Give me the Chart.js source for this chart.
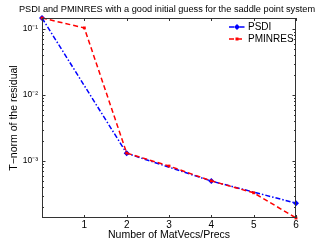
<!DOCTYPE html>
<html><head><meta charset="utf-8">
<script src="https://cdn.jsdelivr.net/npm/chart.js@4/dist/chart.umd.min.js"></script>
<style>html,body{margin:0;padding:0;background:#fff}#wrap{width:327px;height:246px}</style>
</head><body><div id="wrap"><canvas id="c" width="327" height="246"></canvas></div>
<script>
const titleText = 'PSDI and PMINRES with a good initial guess for the saddle point system';
const xLabel = 'Number of MatVecs/Precs';
const yLabel = 'T\u2212norm of the residual';
const psdiX = [0, 2, 4, 6];
const psdiY = [0.147, 1.31e-3, 4.97e-4, 2.3e-4];
const pminresX = [0, 1, 2, 3, 4, 5, 6];
const pminresY = [0.147, 0.104, 1.32e-3, 8.4e-4, 5.0e-4, 3.3e-4, 1.37e-4];
const yMajorTicks = [1e-3, 1e-2, 1e-1];
const yTickLabels = ['10\u207B\u00B3', '10\u207B\u00B2', '10\u207B\u00B9'];
const xTicks = [1, 2, 3, 4, 5, 6];

const FONT = 'Liberation Sans, Arial, Helvetica, sans-serif';
const AX = '#333';

const frame = {
  id: 'frame',
  afterDatasetsDraw(chart) {
    const {ctx, chartArea: a, scales: {x, y}} = chart;
    ctx.save();
    ctx.strokeStyle = AX; ctx.lineWidth = 1;
    ctx.strokeRect(a.left + 0.5, a.top + 0.5, a.right - a.left - 1, a.bottom - a.top - 1);
    ctx.beginPath();
    for (const v of xTicks) {
      const px = Math.round(x.getPixelForValue(v)) + 0.5;
      ctx.moveTo(px, a.bottom); ctx.lineTo(px, a.bottom - 3);
      ctx.moveTo(px, a.top); ctx.lineTo(px, a.top + 3);
    }
    for (let e = -4; e <= 0; e++) {
      for (let m = 1; m <= 9; m++) {
        const v = m * Math.pow(10, e);
        if (v < y.min || v > y.max) continue;
        const py = Math.round(y.getPixelForValue(v)) + 0.5;
        const len = m === 1 ? 3.5 : 2;
        ctx.moveTo(a.left, py); ctx.lineTo(a.left + len, py);
        ctx.moveTo(a.right, py); ctx.lineTo(a.right - len, py);
      }
    }
    ctx.stroke();
    // legend
    const items = chart.data.datasets;
    const lx0 = 229, lx1 = 245;
    items.forEach((ds, i) => {
      const ly = 27 + i * 12;
      ctx.strokeStyle = ds.borderColor; ctx.lineWidth = 1.5;
      ctx.setLineDash(ds.borderDash);
      ctx.beginPath(); ctx.moveTo(lx0, ly); ctx.lineTo(lx1, ly); ctx.stroke();
      ctx.setLineDash([]);
      ctx.fillStyle = ds.pointBackgroundColor;
      const cx = (lx0 + lx1) / 2;
      ctx.beginPath();
      if (ds.pointStyle === 'rectRot') {
        ctx.moveTo(cx, ly - 3); ctx.lineTo(cx + 3, ly); ctx.lineTo(cx, ly + 3); ctx.lineTo(cx - 3, ly); ctx.closePath();
      } else {
        ctx.rect(cx - 1.5, ly - 1.5, 3, 3);
      }
      ctx.fill();
      ctx.fillStyle = '#000';
      ctx.font = '10px ' + FONT;
      ctx.textBaseline = 'middle';
      ctx.fillText(ds.label, 248, ly + 0.5);
    });
    ctx.restore();
  }
};

new Chart(document.getElementById('c'), {
  type: 'line',
  data: {
    datasets: [
      {
        label: 'PSDI',
        data: psdiX.map((v, i) => ({x: v, y: psdiY[i]})),
        borderColor: '#0000ff', backgroundColor: '#0000ff', pointBackgroundColor: '#0000ff',
        borderWidth: 1.5, borderDash: [5, 2, 1.5, 2],
        pointStyle: 'rectRot', pointRadius: 3, pointBorderWidth: 0,
        tension: 0, clip: false, order: 2
      },
      {
        label: 'PMINRES',
        data: pminresX.map((v, i) => ({x: v, y: pminresY[i]})),
        borderColor: '#ff0000', backgroundColor: '#ff0000', pointBackgroundColor: '#ff0000',
        borderWidth: 1.5, borderDash: [5, 3],
        pointStyle: 'rect', pointRadius: 2, pointBorderWidth: 0,
        tension: 0, clip: false, order: 1
      }
    ]
  },
  options: {
    responsive: false, animation: false, devicePixelRatio: 1,
    layout: {padding: {left: 7, right: 0, top: 0, bottom: 5}},
    plugins: {
      legend: {display: false}, tooltip: {enabled: false},
      title: {display: true, text: titleText, color: '#000',
        font: {family: FONT, size: 9.2, weight: 'normal', lineHeight: 1.2}, padding: {top: 4, bottom: 2.96}}
    },
    scales: {
      x: {
        type: 'linear', min: 0, max: 6,
        afterBuildTicks(s) { s.ticks = xTicks.map(v => ({value: v})); },
        afterFit(s) { s.height = 23; },
        grid: {display: false, drawTicks: false}, border: {display: false},
        ticks: {color: '#000', font: {family: FONT, size: 10}, padding: 1, maxRotation: 0},
        title: {display: true, text: xLabel, color: '#000', font: {family: FONT, size: 10.5}, padding: {top: 0, bottom: 0}}
      },
      y: {
        type: 'logarithmic', min: 1.37e-4, max: 0.147,
        afterBuildTicks(s) { s.ticks = yMajorTicks.map(v => ({value: v})); },
        afterFit(s) { s.width = 35; },
        grid: {display: false, drawTicks: false}, border: {display: false},
        ticks: {color: '#000', font: {family: FONT, size: 8.5}, padding: 4,
          callback(v) { const i = yMajorTicks.findIndex(t => Math.abs(t - v) / t < 1e-6); return i >= 0 ? yTickLabels[i] : ''; }},
        title: {display: true, text: yLabel, color: '#000', font: {family: FONT, size: 10.5}, padding: {top: 1, bottom: 0}}
      },
      yRight: {
        type: 'logarithmic', position: 'right', min: 1.37e-4, max: 0.147,
        afterFit(s) { s.width = 31; },
        grid: {display: false, drawTicks: false}, border: {display: false},
        ticks: {display: false}
      }
    }
  },
  plugins: [frame]
});
</script></body></html>
